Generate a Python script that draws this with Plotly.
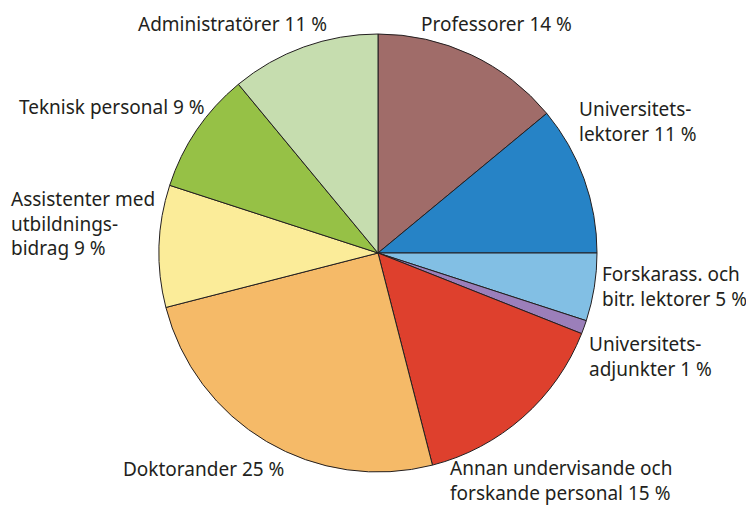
import plotly.graph_objects as go

categories = ["Professorer", "Universitetslektorer", "Forskarass. och bitr. lektorer",
              "Universitetsadjunkter", "Annan undervisande och forskande personal",
              "Doktorander", "Assistenter med utbildningsbidrag", "Teknisk personal",
              "Administratörer"]
values = [14, 11, 5, 1, 15, 25, 9, 9, 11]
label_lines = [
    ["Professorer {} %"],
    ["Universitets-", "lektorer {} %"],
    ["Forskarass. och", "bitr. lektorer {} %"],
    ["Universitets-", "adjunkter {} %"],
    ["Annan undervisande och", "forskande personal {} %"],
    ["Doktorander {} %"],
    ["Assistenter med", "utbildnings-", "bidrag {} %"],
    ["Teknisk personal {} %"],
    ["Administratörer {} %"],
]
colors = ["#A06C69", "#2683C6", "#82BFE4", "#9B7FBA", "#DE402D",
          "#F5BA68", "#FBEC99", "#96C146", "#C6DDAF"]

# label anchor positions in page pixels (left x, first-line center y)
label_pos = [(420, 22), (578, 107), (601, 272), (588, 342), (449, 466),
             (122, 467), (10, 197), (18, 105), (137, 22)]

OFF = 8  # page body margin
W, H = 754 - OFF, 505 - OFF
cx, cy, r = 378 - OFF, 253 - OFF, 219
fs = 19
line_h = fs * 1.3

fig = go.Figure(go.Pie(
    labels=categories, values=values, sort=False, direction="clockwise",
    rotation=0, textinfo="none", hoverinfo="label+percent",
    marker=dict(colors=colors, line=dict(color="#231F20", width=1)),
    domain=dict(x=[(cx - r) / W, (cx + r) / W], y=[1 - (cy + r) / H, 1 - (cy - r) / H]),
    showlegend=False,
))

ann = []
for lines, (px, py), v in zip(label_lines, label_pos, values):
    text = "<br>".join(lines).format(v)
    top = py - OFF - line_h / 2
    ann.append(dict(
        x=(px - OFF) / W, y=1 - top / H, xref="paper", yref="paper",
        text=text, showarrow=False, xanchor="left", yanchor="top", align="left",
        borderpad=0,
        font=dict(family="Noto Sans", size=fs, color="#231F20"),
    ))

fig.update_layout(
    width=W, height=H, margin=dict(l=0, r=0, t=0, b=0),
    paper_bgcolor="white", plot_bgcolor="white", annotations=ann,
)
fig.write_html("out.html")
